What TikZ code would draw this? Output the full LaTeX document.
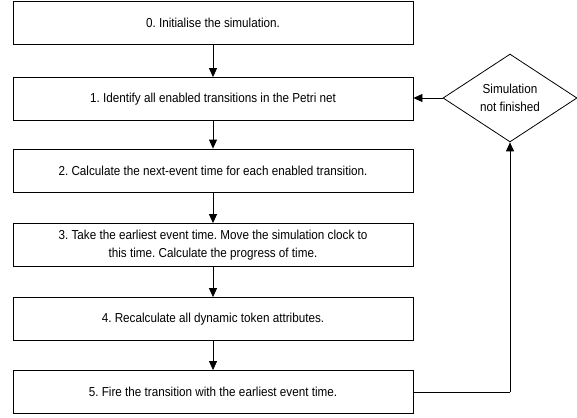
\documentclass[tikz,border=0pt]{standalone}
\usepackage{fontspec}
\setmainfont[FakeStretch=0.9]{Liberation Sans}
\usetikzlibrary{shapes.geometric,arrows.meta}
\begin{document}
\frenchspacing
\begin{tikzpicture}[x=1pt,y=-1pt,
  txt/.style={font=\fontsize{13}{18.5}\selectfont},
  stepbox/.style={txt,draw=black,line width=0.8pt,minimum width=400pt,minimum height=43pt,inner sep=0pt,align=center},
  decision/.style={txt,draw=black,line width=0.8pt,shape=diamond,minimum width=134pt,minimum height=76pt,inner sep=0pt,align=center},
  arr/.style={draw=black,line width=0.8pt,-{Triangle[length=9pt,width=8pt]}},
  ln/.style={draw=black,line width=0.8pt}]
\useasboundingbox (0,0) rectangle (577,417);
\node[stepbox] (s0) at (213,23) {0. Initialise the simulation.};
\node[stepbox] (s1) at (213,99) {1. Identify all enabled transitions in the Petri net};
\node[stepbox] (s2) at (213,170.5) {2. Calculate the next-event time for each enabled transition.};
\node[stepbox] (s3) at (213,245) {3. Take the earliest event time. Move the simulation clock to\\this time. Calculate the progress of time.};
\node[stepbox] (s4) at (213,319) {4. Recalculate all dynamic token attributes.};
\node[stepbox] (s5) at (213,392) {5. Fire the transition with the earliest event time.};
\node[decision] (d) at (510,98) {Simulation\\not finished};
\coordinate (c) at (510,392);
\draw[arr] (s0) -- (s1);
\draw[arr] (s1) -- (s2);
\draw[arr] (s2) -- (s3);
\draw[arr] (s3) -- (s4);
\draw[arr] (s4) -- (s5);
\draw[arr] (d.west) -- (s1.east |- d.west);
\draw[ln] (s5.east) -- (c);
\draw[arr] (c) -- (d.south);
\end{tikzpicture}
\end{document}
